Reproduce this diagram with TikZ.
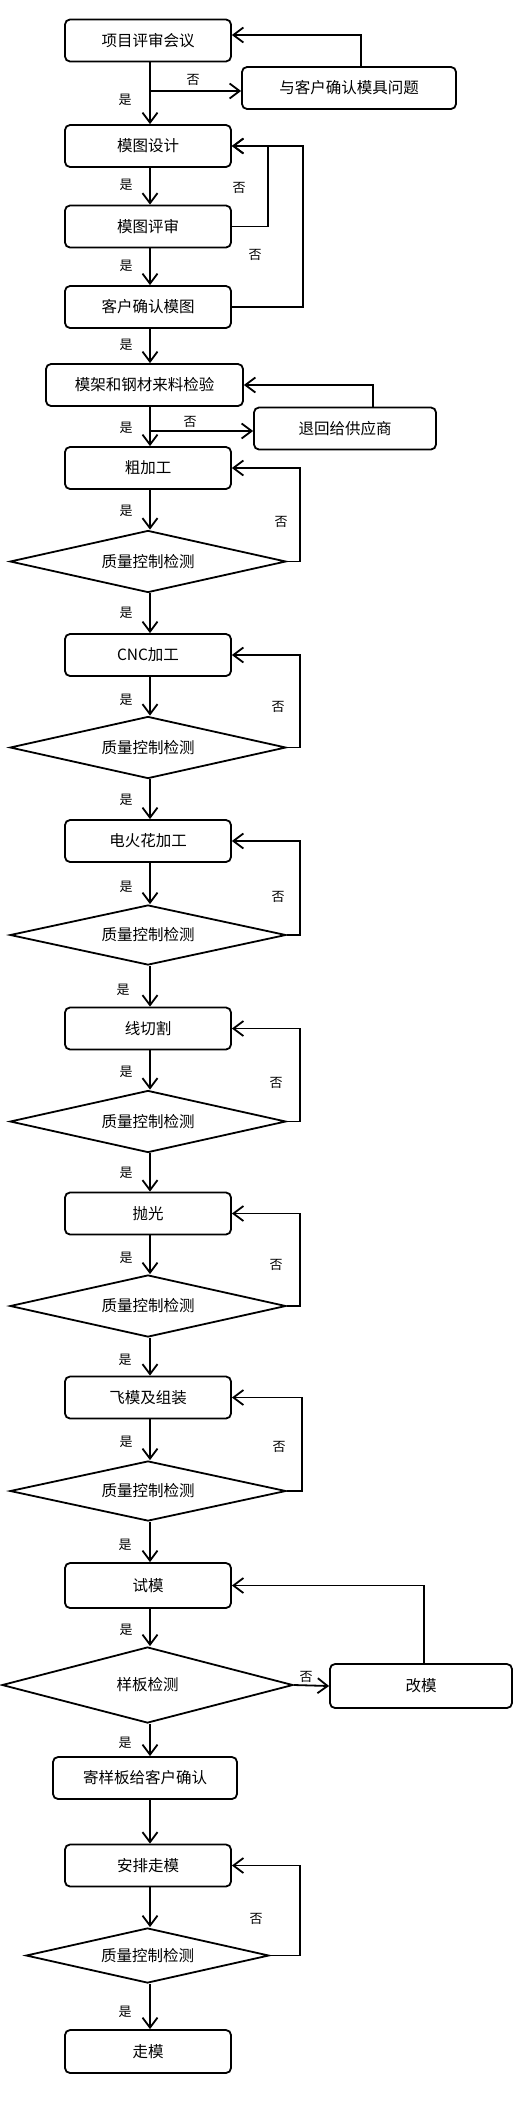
\documentclass[tikz,border=0pt]{standalone}
\usepackage{fontspec}
\setmainfont{Noto Sans CJK SC}
\usetikzlibrary{arrows.meta,shapes.geometric}
\begin{document}
\begin{tikzpicture}[x=1pt,y=-1pt,
  lw/.style={line width=1.8pt},
  proc/.style={draw,lw,rounded corners=5pt,minimum width=166pt,minimum height=42pt,inner sep=0pt,font=\fontsize{15.5}{18}\selectfont},
  dec/.style={draw,lw,diamond,aspect=4.45,inner sep=0pt,minimum width=276pt,minimum height=62pt,font=\fontsize{15.5}{18}\selectfont},
  arr/.style={lw,-{Straight Barb[length=10pt,width=15pt]}},
  lbl/.style={font=\fontsize{13}{15}\selectfont,inner sep=0pt}]
\useasboundingbox (0,0) rectangle (520,2106);
\coordinate (spine) at (150,0);
% nodes
\node[proc] (b1) at (148,40.5) {项目评审会议};
\node[proc,minimum width=214pt] (q1) at (349,88) {与客户确认模具问题};
\node[proc] (b2) at (148,146) {模图设计};
\node[proc] (b3) at (148,226.5) {模图评审};
\node[proc] (b4) at (148,307) {客户确认模图};
\node[proc,minimum width=197pt] (b5) at (144.5,385) {模架和钢材来料检验};
\node[proc,minimum width=182pt] (q2) at (345,428.5) {退回给供应商};
\node[proc] (b6) at (148,468) {粗加工};
\node[dec] (d1) at (148,561.5) {质量控制检测};
\node[proc] (b7) at (148,655) {CNC加工};
\node[dec] (d2) at (148,747.5) {质量控制检测};
\node[proc] (b8) at (148,841) {电火花加工};
\node[dec,minimum height=60pt] (d3) at (148,935) {质量控制检测};
\node[proc] (b9) at (148,1028.5) {线切割};
\node[dec] (d4) at (148,1121.5) {质量控制检测};
\node[proc] (b10) at (148,1213.5) {抛光};
\node[dec] (d5) at (148,1306) {质量控制检测};
\node[proc] (b11) at (148,1397.5) {飞模及组装};
\node[dec,minimum height=60pt] (d6) at (148,1491) {质量控制检测};
\node[proc,minimum height=45pt] (b12) at (148,1585.5) {试模};
\node[dec,minimum width=291pt,minimum height=76pt] (d7) at (147.5,1685) {样板检测};
\node[proc,minimum width=182pt,minimum height=44pt] (q3) at (421,1686) {改模};
\node[proc,minimum width=184pt] (b13) at (145,1778) {寄样板给客户确认};
\node[proc] (b14) at (148,1865.5) {安排走模};
\node[dec,minimum width=243pt,minimum height=55pt] (d8) at (147.5,1955.5) {质量控制检测};
\node[proc,minimum height=43pt] (b15) at (148,2051.5) {走模};
% main flow
\draw[arr] (b1.south -| spine) -- (b2.north -| spine);
\draw[arr] (b2.south -| spine) -- (b3.north -| spine);
\draw[arr] (b3.south -| spine) -- (b4.north -| spine);
\draw[arr] (b4.south -| spine) -- (b5.north -| spine);
\draw[arr] (b5.south -| spine) -- (b6.north -| spine);
\draw[arr] (b6.south -| spine) -- (d1.north -| spine);
\draw[arr] (d1.south -| spine) -- (b7.north -| spine);
\draw[arr] (b7.south -| spine) -- (d2.north -| spine);
\draw[arr] (d2.south -| spine) -- (b8.north -| spine);
\draw[arr] (b8.south -| spine) -- (d3.north -| spine);
\draw[arr] (d3.south -| spine) -- (b9.north -| spine);
\draw[arr] (b9.south -| spine) -- (d4.north -| spine);
\draw[arr] (d4.south -| spine) -- (b10.north -| spine);
\draw[arr] (b10.south -| spine) -- (d5.north -| spine);
\draw[arr] (d5.south -| spine) -- (b11.north -| spine);
\draw[arr] (b11.south -| spine) -- (d6.north -| spine);
\draw[arr] (d6.south -| spine) -- (b12.north -| spine);
\draw[arr] (b12.south -| spine) -- (d7.north -| spine);
\draw[arr] (d7.south -| spine) -- (b13.north -| spine);
\draw[arr] (b13.south -| spine) -- (b14.north -| spine);
\draw[arr] (b14.south -| spine) -- (d8.north -| spine);
\draw[arr] (d8.south -| spine) -- (b15.north -| spine);
% yes labels
\node[lbl] (y1) at (125,100) {是};
\node[lbl] (y2) at (126,185) {是};
\node[lbl] (y3) at (126,266) {是};
\node[lbl] (y4) at (126,345) {是};
\node[lbl] (y5) at (126,428) {是};
\node[lbl] (y6) at (126,511) {是};
\node[lbl] (y7) at (126,613) {是};
\node[lbl] (y8) at (126,700) {是};
\node[lbl] (y9) at (126,800) {是};
\node[lbl] (y10) at (126,887) {是};
\node[lbl] (y11) at (123,990) {是};
\node[lbl] (y12) at (126,1072) {是};
\node[lbl] (y13) at (126,1173) {是};
\node[lbl] (y14) at (126,1258) {是};
\node[lbl] (y15) at (125,1360) {是};
\node[lbl] (y16) at (126,1442) {是};
\node[lbl] (y17) at (125,1545) {是};
\node[lbl] (y18) at (126,1630) {是};
\node[lbl] (y19) at (125,1743) {是};
\node[lbl] (y20) at (125,2012) {是};
% no branches
\coordinate (br1) at (150,91);
\draw[arr] (br1) -- (br1 -| q1.west);
\draw[arr] ([xshift=12pt]q1.north) |- ([yshift=5.5pt]b1.east);
\node[lbl] (n1) at (193,80) {否};
\draw[arr] (b3.east) -- ++(36,0) |- (b2.east);
\node[lbl] (n2) at (239,188) {否};
\draw[arr] (b4.east) -- ++(71,0) |- (b2.east);
\node[lbl] (n3) at (255,255) {否};
\coordinate (br2) at (150,431);
\draw[arr] (br2) -- (br2 -| q2.west);
\draw[arr] ([xshift=28pt]q2.north) |- (b5.east);
\node[lbl] (n4) at (190,422) {否};
\draw[arr] (d1.east) -- ++(13,0) |- (b6.east);
\node[lbl] (n5) at (281,522) {否};
\draw[arr] (d2.east) -- ++(13,0) |- (b7.east);
\node[lbl] (n6) at (278,707) {否};
\draw[arr] (d3.east) -- ++(13,0) |- (b8.east);
\node[lbl] (n7) at (278,897) {否};
\draw[arr] (d4.east) -- ++(13,0) |- (b9.east);
\node[lbl] (n8) at (276,1083) {否};
\draw[arr] (d5.east) -- ++(13,0) |- (b10.east);
\node[lbl] (n9) at (276,1265) {否};
\draw[arr] (d6.east) -- ++(15,0) |- (b11.east);
\node[lbl] (n10) at (279,1447) {否};
\draw[arr] (d7.east) -- (q3.west);
\node[lbl] (n11) at (306,1677) {否};
\draw[arr] ([xshift=3pt]q3.north) |- (b12.east);
\draw[arr] (d8.east) -- ++(30,0) |- (b14.east);
\node[lbl] (n12) at (256,1919) {否};
\end{tikzpicture}
\end{document}
